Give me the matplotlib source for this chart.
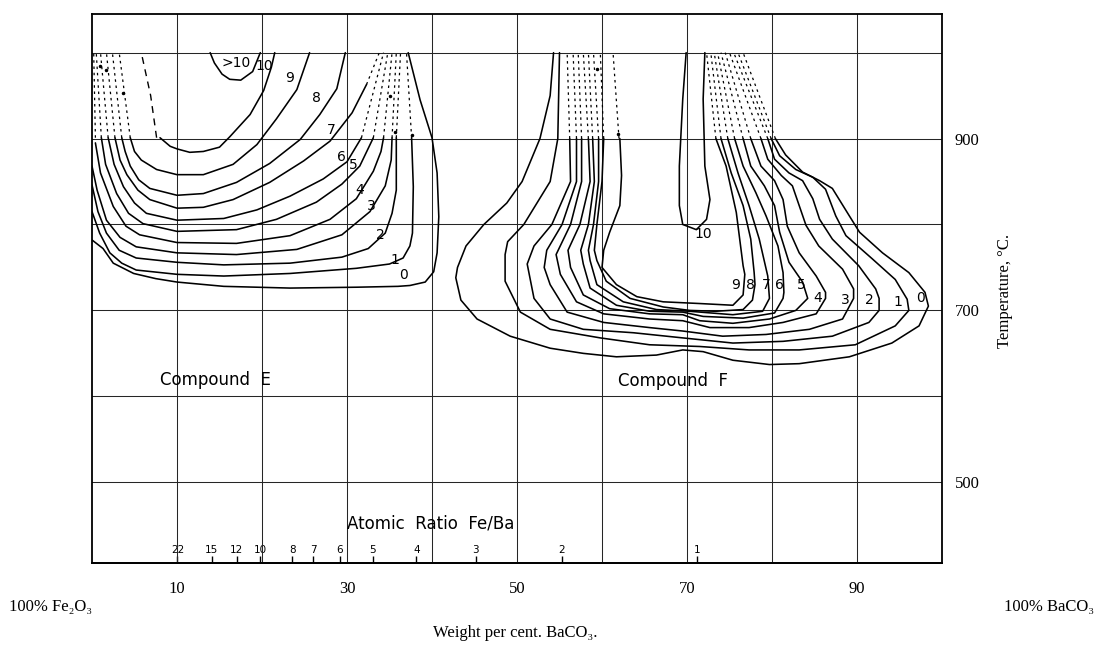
import numpy as np
import matplotlib.pyplot as plt

# molecular weights used for the Fe/Ba scale
M_BACO3 = 197.34
M_FE2O3 = 159.69

grid_x = [10, 20, 30, 40, 50, 60, 70, 80, 90]
x_tick_labels = ['10', '', '30', '', '50', '', '70', '', '90']
grid_t = [500, 600, 700, 800, 900, 1000]
t_tick_labels = ['500', '', '700', '', '900', '']

ratio_ticks = [22, 15, 12, 10, 8, 7, 6, 5, 4, 3, 2, 1]
ratio_labels = ['22', '15', '12', '10', '8', '7', '6', '5', '4', '3', '2', '1']

# Compound E contours (wt % BaCO3, temperature C)
e_c0 = [(0.0, 782), (1.3, 772), (2.5, 755), (4.9, 743), (7.5, 737), (10, 733), (15.5, 728),
        (23.3, 726), (31.1, 727), (36.0, 728), (37.4, 729), (39.2, 733), (40.2, 745),
        (40.6, 767), (40.8, 809), (40.6, 860), (40.0, 901), (38.6, 945), (37.2, 1000)]
e_c1 = [(0.0, 815), (0.9, 790), (2.1, 767), (3.5, 755), (5.2, 747), (10, 742), (15.5, 740),
        (23.3, 743), (31.1, 749), (35.0, 754), (36.6, 761), (37.4, 775), (37.7, 790),
        (37.8, 844), (37.6, 901)]
e_c2 = [(0.0, 846), (0.7, 815), (1.7, 790), (3.2, 770), (5.2, 761), (10, 756), (15.5, 753),
        (23.3, 755), (29.4, 762), (32.5, 772), (34.5, 790), (35.3, 813), (35.8, 840),
        (35.8, 870), (35.8, 901)]
e_c3 = [(0.0, 868), (0.6, 840), (1.7, 805), (3.3, 785), (5.2, 774), (10, 767), (17.0, 765),
        (24.1, 771), (29.4, 788), (32.7, 815), (34.5, 845), (35.2, 875), (35.3, 901)]
e_c4 = [(0.4, 895), (1.0, 860), (2.5, 821), (4.0, 798), (5.6, 788), (10, 779), (17.0, 778),
        (23.3, 787), (28.0, 806), (31.1, 830), (33.1, 862), (34.0, 885), (34.3, 901)]
e_c5 = [(1.1, 901), (1.6, 870), (2.9, 836), (4.3, 813), (6.0, 801), (10, 792), (17.0, 794),
        (21.7, 806), (26.4, 826), (29.4, 847), (31.5, 868), (33.1, 901)]
e_c6 = [(1.9, 901), (2.6, 870), (3.7, 844), (5.0, 825), (6.4, 813), (10, 805), (15.5, 807),
        (19.4, 817), (23.3, 833), (27.2, 853), (30.0, 873), (31.7, 901)]
e_c7 = [(2.7, 901), (3.3, 875), (4.1, 858), (5.4, 840), (6.8, 829), (10, 819), (13.1, 820),
        (16.6, 829), (20.9, 849), (24.9, 874), (28.0, 897), (30.6, 930), (32.3, 963)]
e_c8 = [(3.5, 901), (3.9, 885), (4.5, 868), (5.5, 852), (6.8, 842), (10, 834), (13.1, 836),
        (17.0, 849), (20.9, 871), (24.5, 899), (26.8, 928), (28.8, 958), (29.8, 1000)]
e_c9 = [(4.5, 901), (5.0, 885), (5.8, 875), (7.6, 864), (10, 858), (13.1, 858), (16.6, 870),
        (19.4, 893), (21.7, 923), (24.1, 957), (25.6, 1000)]
e_c10 = [(8.0, 901), (9.2, 891), (10, 888), (11.5, 884), (13.1, 885), (15.0, 890), (16.2, 902),
         (18.6, 928), (20.2, 956), (21.1, 983), (21.5, 1000)]
e_gt10 = [(13.9, 1000), (14.4, 988), (15.3, 975), (16.2, 969), (17.5, 968), (18.9, 978), (19.8, 1000)]
e_c10_dash = [(7.6, 901), (6.9, 950), (5.8, 1000)]

# dashed extrapolations above 900 C: start (x0, t0) -> end (x1, 1000)
e_hatch_x0 = [4.5, 3.5, 2.7, 1.9, 1.1, 0.4, 32.3, 31.7, 33.1, 34.3, 35.3, 35.8, 37.6]
e_hatch_t0 = [901, 901, 901, 901, 901, 901, 963, 901, 901, 901, 901, 901, 901]
e_hatch_x1 = [3.2, 2.4, 1.7, 1.0, 0.5, 0.2, 33.8, 34.3, 34.8, 35.3, 35.8, 36.3, 37.0]

# Compound F contours
f_c0 = [(54.3, 1000), (53.9, 950), (52.7, 900), (50.6, 850), (48.8, 825), (46.1, 800),
        (44.0, 775), (43.0, 750), (42.8, 738), (43.4, 712), (45.3, 690), (49.2, 670),
        (53.9, 656), (57.8, 650), (61.7, 646), (66.4, 648), (69.5, 654), (71.9, 652),
        (75.4, 642), (79.7, 637), (83.2, 638), (89.1, 646), (94.1, 662), (97.3, 682),
        (98.4, 705), (98.0, 721), (96.1, 744), (93.0, 767), (90.3, 791), (89.1, 810),
        (87.1, 842), (85.6, 851), (83.6, 861), (81.6, 881), (80.4, 900)]
f_c1 = [(55.0, 1000), (54.9, 950), (54.8, 900), (53.9, 850), (50.8, 800), (48.9, 780),
        (48.6, 765), (48.6, 734), (50.4, 698), (53.9, 678), (59.8, 668), (65.6, 660),
        (71.5, 658), (77.3, 654), (83.2, 654), (89.8, 660), (94.5, 682), (96.1, 700),
        (95.9, 713), (94.5, 736), (91.8, 760), (88.7, 787), (87.5, 810), (86.3, 841),
        (84.8, 855), (82.8, 864), (80.9, 880), (79.9, 900)]
f_c2 = [(56.2, 900), (56.3, 850), (54.1, 800), (52.0, 775), (51.2, 754), (52.0, 714),
        (53.9, 690), (57.8, 678), (63.7, 674), (69.5, 668), (75.4, 662), (81.3, 664),
        (87.1, 670), (91.4, 686), (92.6, 700), (92.6, 714), (92.2, 725), (90.2, 752),
        (87.1, 783), (85.6, 806), (84.8, 830), (83.6, 851), (82.0, 860), (80.3, 876), (79.5, 900)]
f_c3 = [(57.0, 900), (57.0, 850), (55.3, 800), (53.5, 770), (53.2, 750), (53.9, 730),
        (55.9, 698), (60.2, 686), (65.6, 680), (69.5, 676), (74.2, 670), (79.3, 672),
        (84.4, 678), (88.3, 690), (89.6, 714), (89.6, 725), (88.3, 748), (85.5, 775),
        (84.0, 799), (83.2, 822), (82.4, 845), (81.1, 857), (79.5, 876), (78.7, 900)]
f_c4 = [(57.6, 900), (57.6, 850), (56.3, 800), (54.6, 765), (55.1, 742), (57.0, 710),
        (60.2, 696), (65.6, 690), (69.5, 688), (72.7, 680), (77.3, 680), (81.3, 686),
        (85.2, 696), (86.3, 714), (86.3, 721), (85.2, 740), (83.2, 767), (81.8, 798),
        (81.3, 829), (80.3, 851), (78.7, 868), (77.5, 900)]
f_c5 = [(58.4, 900), (58.6, 850), (57.4, 800), (56.0, 770), (56.3, 750), (57.8, 718),
        (60.9, 702), (65.6, 696), (69.5, 695), (71.5, 688), (75.4, 685), (79.7, 690),
        (82.8, 700), (84.2, 714), (83.6, 733), (82.0, 756), (80.9, 791), (80.3, 822),
        (79.1, 845), (77.5, 868), (76.6, 900)]
f_c6 = [(58.9, 900), (59.1, 850), (58.4, 800), (57.5, 770), (57.8, 754), (58.6, 726),
        (61.7, 706), (65.6, 699), (69.5, 698), (71.9, 693), (76.6, 691), (80.3, 697),
        (81.3, 714), (81.4, 721), (81.3, 744), (80.7, 775), (79.3, 810), (78.1, 837),
        (76.6, 868), (75.6, 900)]
f_c7 = [(59.6, 900), (59.6, 850), (59.0, 800), (58.4, 770), (58.6, 758), (59.4, 730),
        (62.5, 710), (66.4, 701), (70.3, 699), (75.4, 695), (78.9, 699), (79.7, 714),
        (79.5, 740), (78.5, 783), (77.3, 822), (76.0, 860), (74.8, 900)]
f_c8 = [(60.2, 900), (60.0, 850), (59.4, 800), (59.1, 770), (59.4, 758), (60.5, 734),
        (63.3, 714), (67.2, 704), (70.3, 700), (73.4, 699), (76.6, 701), (77.7, 712),
        (78.0, 730), (77.9, 744), (77.5, 783), (76.6, 822), (75.2, 860), (74.0, 900)]
f_c9 = [(62.1, 900), (62.3, 857), (62.1, 822), (60.9, 791), (60.2, 770), (60.0, 750),
        (61.7, 730), (64.1, 716), (67.2, 710), (71.5, 708), (75.4, 706), (76.6, 718),
        (76.8, 742), (76.6, 752), (75.8, 814), (74.6, 868), (73.4, 900)]
f_c10 = [(69.9, 1000), (69.5, 946), (69.1, 868), (69.1, 822), (69.5, 800), (71.1, 794),
         (72.3, 806), (72.7, 829), (72.1, 868), (71.9, 946), (72.1, 1000)]

f_hatch_x0 = [56.2, 57.0, 57.6, 58.4, 58.9, 59.6, 60.2, 62.0,
              73.4, 74.0, 74.8, 75.6, 76.6, 77.5, 78.7, 79.5, 79.9, 80.4]
f_hatch_x1 = [55.9, 56.6, 57.2, 57.8, 58.4, 59.0, 59.8, 61.3,
              72.3, 72.8, 73.2, 73.6, 74.0, 74.5, 75.0, 75.5, 76.0, 76.6]

dots_x = [0.9, 1.7, 3.7, 35.1, 35.6, 37.6, 59.4, 61.9]
dots_t = [984, 980, 953, 949, 908, 904, 981, 905]

e_label_text = ['>10', '10', '9', '8', '7', '6', '5', '4', '3', '2', '1', '0']
e_label_x = [17.0, 20.3, 23.3, 26.4, 28.2, 29.4, 30.8, 31.5, 32.9, 33.9, 35.6, 36.6]
e_label_t = [988, 984, 971, 947, 910, 879, 869, 840, 821, 788, 759, 741]

f_label_text = ['10', '9', '8', '7', '6', '5', '4', '3', '2', '1', '0']
f_label_x = [71.9, 75.7, 77.5, 79.3, 80.9, 83.4, 85.4, 88.6, 91.5, 94.8, 97.5]
f_label_t = [789, 730, 730, 730, 730, 730, 714, 712, 712, 710, 714]


def wt_to_ratio(w):
    w = np.clip(np.asarray(w, dtype=float), 0.05, 100)
    return 2 * M_BACO3 * (100 / w - 1) / M_FE2O3


def ratio_to_wt(r):
    r = np.clip(np.asarray(r, dtype=float), 0, None)
    return 100 * M_BACO3 / (M_BACO3 + r * M_FE2O3 / 2)


def curve(ax, pts, **kw):
    pts = np.array(pts)
    ax.plot(pts[:, 0], pts[:, 1], color='k', solid_joinstyle='round',
            solid_capstyle='round', **kw)


serif = ['Liberation Serif', 'DejaVu Serif']
hand = 'DejaVu Sans'

fig = plt.figure(figsize=(11.04, 6.54), dpi=100)
ax = fig.add_axes([92 / 1104, 91 / 654, 850 / 1104, 549 / 654])
ax.set_xlim(0, 100)
ax.set_ylim(406, 1045)

ax.set_xticks(grid_x)
ax.set_xticklabels(x_tick_labels, family=serif)
ax.set_yticks(grid_t)
ax.set_yticklabels(t_tick_labels, family=serif)
ax.yaxis.tick_right()
ax.tick_params(axis='x', length=0, pad=13, labelsize=12)
ax.tick_params(axis='y', length=0, pad=9, labelsize=12)
ax.grid(True, color='#262626', lw=0.75)
for s in ax.spines.values():
    s.set_linewidth(1.3)

for c in [e_c0, e_c1, e_c2, e_c3, e_c4, e_c5, e_c6, e_c7, e_c8, e_c9, e_c10, e_gt10,
          f_c0, f_c1, f_c2, f_c3, f_c4, f_c5, f_c6, f_c7, f_c8, f_c9, f_c10]:
    curve(ax, c, lw=1.15)

curve(ax, e_c10_dash, lw=1.0, dashes=(5, 4))
for x0, t0, x1 in zip(e_hatch_x0, e_hatch_t0, e_hatch_x1):
    ax.plot([x0, x1], [t0, 1000], color='k', lw=0.9, dashes=(2, 3))
for x0, x1 in zip(f_hatch_x0, f_hatch_x1):
    ax.plot([x0, x1], [900, 1000], color='k', lw=0.9, dashes=(2, 3))
ax.plot(dots_x, dots_t, 'k.', ms=3)

for s, x, t in zip(e_label_text, e_label_x, e_label_t):
    ax.text(x, t, s, fontsize=10, family=hand, ha='center', va='center')
for s, x, t in zip(f_label_text, f_label_x, f_label_t):
    ax.text(x, t, s, fontsize=10, family=hand, ha='center', va='center')

ax.text(14.5, 619, 'Compound  E', fontsize=12, family=hand, ha='center', va='center')
ax.text(68.4, 618, 'Compound  F', fontsize=12, family=hand, ha='center', va='center')
ax.text(39.8, 452, 'Atomic  Ratio  Fe/Ba', fontsize=12, family=hand, ha='center', va='center')

# Fe/Ba atomic ratio scale along the bottom edge
sec = ax.secondary_xaxis(0.0, functions=(wt_to_ratio, ratio_to_wt))
sec.set_alignment('top')
sec.set_xticks(ratio_ticks)
sec.set_xticklabels(ratio_labels, family=hand)
sec.tick_params(direction='out', length=5, width=1, pad=0.5, labelsize=7.5)
for s in sec.spines.values():
    s.set_linewidth(1.3)

fig.text(0.008, 0.072, '100% Fe₂O₃', family=serif, fontsize=12, va='center')
fig.text(0.909, 0.072, '100% BaCO₃', family=serif, fontsize=12, va='center')
fig.text(0.4665, 0.032, 'Weight per cent. BaCO₃.', family=serif, fontsize=12,
         ha='center', va='center')
fig.text(0.910, 0.555, 'Temperature, °C.', family=serif, fontsize=12, rotation=90,
         ha='center', va='center')

fig.savefig('out.png', dpi=100)
